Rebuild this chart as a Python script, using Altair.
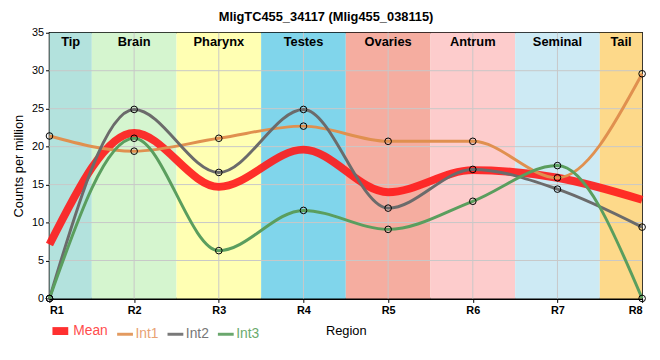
import altair as alt
import pandas as pd

# ---- data ----
positions = [1, 2, 3, 4, 5, 6, 7, 8]
region_labels = ["R1", "R2", "R3", "R4", "R5", "R6", "R7", "R8"]

mean_vals = [7.1, 21.8, 14.7, 19.6, 14.0, 16.9, 15.9, 13.0]
int1_vals = [21.4, 19.4, 21.1, 22.7, 20.7, 20.7, 15.9, 29.6]
int2_vals = [0.0, 24.9, 16.6, 24.9, 11.9, 17.0, 14.4, 9.4]
int3_vals = [0.0, 21.1, 6.3, 11.6, 9.1, 12.8, 17.5, 0.0]

series_names = ["Mean", "Int1", "Int2", "Int3"]
series_colors = ["#ff1a1a", "#e0904f", "#6b6b6b", "#5a9e5e"]
series_label_colors = ["#ff4d4d", "#e8a273", "#777777", "#6aab6d"]
series_widths = [8, 3, 3, 3]

band_names = ["Tip", "Brain", "Pharynx", "Testes", "Ovaries", "Antrum", "Seminal", "Tail"]
band_start = [1, 1.5, 2.5, 3.5, 4.5, 5.5, 6.5, 7.5]
band_end = [1.5, 2.5, 3.5, 4.5, 5.5, 6.5, 7.5, 8]
band_colors = ["#b3e2dd", "#d5f5cf", "#ffffb3", "#80d5eb", "#f5ada0", "#fdcccc", "#cdeaf4", "#fdd98a"]

y_ticks = [0, 5, 10, 15, 20, 25, 30, 35]
y_grid = [5, 10, 15, 20, 25, 30]

# ---- tables ----
bands = pd.DataFrame({
    "name": band_names, "start": band_start, "end": band_end, "color": band_colors,
    "mid": [(a + b) / 2 for a, b in zip(band_start, band_end)],
})

rows = []
for name, vals in zip(series_names, [mean_vals, int1_vals, int2_vals, int3_vals]):
    for p, v in zip(positions, vals):
        rows.append({"series": name, "pos": p, "value": v})
lines = pd.DataFrame(rows)
mean_df = lines[lines.series == "Mean"]
int_df = lines[lines.series != "Mean"]

xscale = alt.Scale(domain=[1, 8], nice=False, zero=False)
yscale = alt.Scale(domain=[0, 35], nice=False)

x_axis = alt.Axis(
    values=positions, labelExpr="'R' + datum.value", title="Region",
    grid=False, domainColor="black", domainWidth=2, tickColor="black", tickSize=4,
    labelFontSize=11, labelFontWeight="bold", labelColor="black", labelPadding=2,
    labelOverlap=False,
    titleFontSize=13, titleFontWeight="normal", titleColor="black", titlePadding=10,
    labelFont="Liberation Sans", titleFont="Liberation Sans",
)
y_axis = alt.Axis(
    values=y_ticks, title="Counts per million",
    grid=False, domainColor="black", domainWidth=2, tickColor="black", tickSize=4,
    labelFontSize=11, labelColor="black", labelPadding=2, labelOverlap=False,
    titleFontSize=13, titleFontWeight="normal", titleColor="black", titlePadding=6,
    labelFont="Liberation Sans", titleFont="Liberation Sans",
)


def X(field):
    return alt.X(field, scale=xscale, axis=x_axis, title="Region")


def Y(field):
    return alt.Y(field, scale=yscale, axis=y_axis, title="Counts per million")


band_layer = alt.Chart(bands).mark_rect().encode(
    x=X("start:Q"),
    x2="end:Q",
    y=alt.datum(0, scale=yscale, axis=y_axis, title="Counts per million"),
    y2=alt.datum(35),
    fill=alt.Fill("color:N", scale=None),
)

vgrid = alt.Chart(pd.DataFrame({"pos": positions[1:-1]})).mark_rule(
    color="#c8c8c8", strokeWidth=1
).encode(x=X("pos:Q"))

hgrid = alt.Chart(pd.DataFrame({"v": y_grid})).mark_rule(
    color="#c8c8c8", strokeWidth=1
).encode(y=Y("v:Q"))

band_text = alt.Chart(bands).mark_text(
    fontSize=13, fontWeight="bold", color="black", baseline="middle",
    font="Liberation Sans",
).encode(x=X("mid:Q"), y=alt.value(9), text="name:N")

label_expr = " : ".join(
    f"datum.label == '{n}' ? '{c}'" for n, c in zip(series_names[:-1], series_label_colors[:-1])
) + f" : '{series_label_colors[-1]}'"

legend = alt.Legend(
    title=None, orient="none", direction="horizontal",
    legendX=-1, legendY=290, symbolType="stroke", symbolSize=256,
    labelFontSize=14, labelFont="Liberation Sans", labelOffset=1, columnPadding=2,
    labelColor={"expr": label_expr},
)

color_enc = alt.Color(
    "series:N",
    scale=alt.Scale(domain=series_names, range=series_colors),
    legend=legend,
)
width_enc = alt.StrokeWidth(
    "series:N",
    scale=alt.Scale(type="ordinal", domain=series_names, range=series_widths),
    legend=legend,
)

mean_layer = alt.Chart(mean_df).mark_line(interpolate="monotone", opacity=0.9).encode(
    x=X("pos:Q"),
    y=Y("value:Q"),
    color=color_enc,
    strokeWidth=width_enc,
    detail="series:N",
)

int_layer = alt.Chart(int_df).mark_line(interpolate="monotone").encode(
    x=X("pos:Q"),
    y=Y("value:Q"),
    color=color_enc,
    strokeWidth=width_enc,
    detail="series:N",
)

points = alt.Chart(int_df).mark_point(
    shape="circle", filled=False, color="black", strokeWidth=1, size=45, opacity=1
).encode(
    x=X("pos:Q"),
    y=Y("value:Q"),
)

chart = alt.layer(
    band_layer, vgrid, hgrid, band_text, mean_layer, int_layer, points
).properties(
    width=600, height=269,
    title=alt.TitleParams(
        "MligTC455_34117 (Mlig455_038115)", fontSize=13, fontWeight="bold",
        font="Liberation Sans", color="black", anchor="middle", dx=-20, offset=3,
    ),
    autosize=alt.AutoSizeParams(type="none"),
    padding={"left": 42, "top": 23, "right": 10, "bottom": 40},
).configure_view(stroke="black", strokeWidth=1.5)

chart.save("out.html", embed_options={"renderer": "svg", "actions": False})
